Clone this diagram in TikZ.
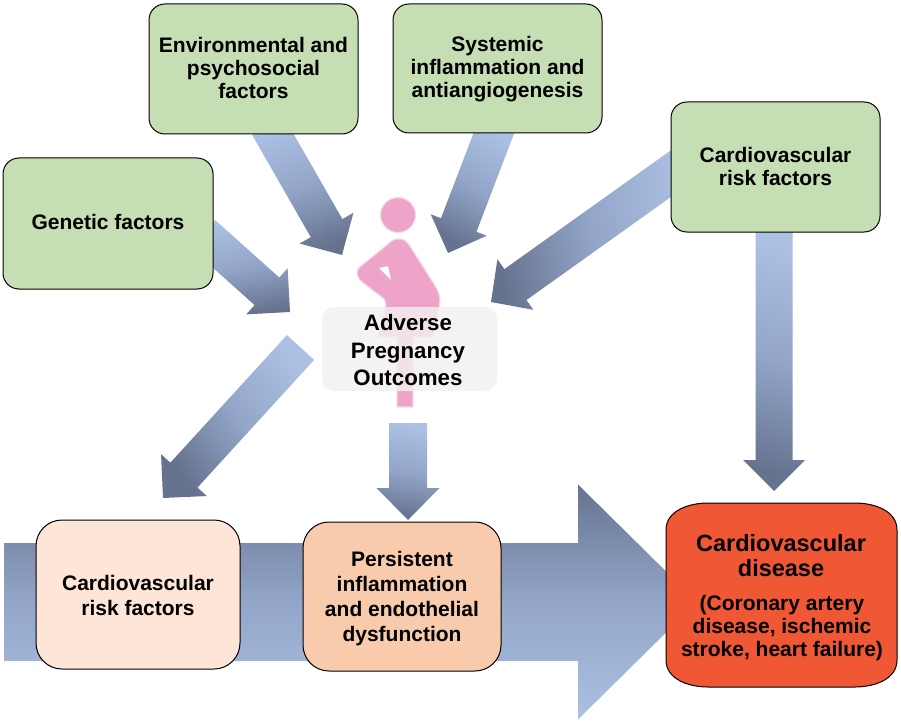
\documentclass[tikz,border=0pt]{standalone}
\usepackage{fontspec}
\setmainfont{Liberation Sans}
\usetikzlibrary{calc}
\definecolor{boxgreen}{HTML}{C6DEB4}
\definecolor{boxpale}{HTML}{FDE5D8}
\definecolor{boxpeach}{HTML}{F8CBAC}
\definecolor{boxred}{HTML}{F05735}
\definecolor{arrowdark}{HTML}{66738F}
\definecolor{arrowlight}{HTML}{ABC0E2}
\definecolor{arrowmid}{HTML}{93A6C9}
\definecolor{figpink}{HTML}{EEA3C8}
\definecolor{fighalo}{HTML}{F3DDE8}
\definecolor{centerbox}{HTML}{F2F0F1}
\tikzset{
  x=1pt,y=-1pt,
  stepbox/.style={draw=black,line width=1pt,inner sep=0pt,rounded corners=#1},
  stepbox/.default=16pt,
  greenbox/.style={stepbox,fill=boxgreen},
  lab/.style={font=\bfseries\fontsize{21}{23}\selectfont,align=center,text=black,inner sep=0pt},
  lablow/.style={font=\bfseries\fontsize{21}{25}\selectfont,align=center,text=black,inner sep=0pt},
  blockarrow/.style={top color=arrowdark,bottom color=arrowlight,middle color=arrowmid,draw=none},
  figpart/.style={fill=figpink,draw=fighalo,line width=1.2pt,line join=round}
}
% tail, tip, shaft half-width, head half-width, head length, shading angle
\newcommand{\blockarrow}[6]{%
  \coordinate (hb) at ($(#2)!#5pt!(#1)$);
  \path[blockarrow,shading angle=#6]
    ($(#1)!#3pt!90:(#2)$) -- ($(hb)!#3pt!90:(#2)$) -- ($(hb)!#4pt!90:(#2)$) -- (#2)
    -- ($(hb)!#4pt!-90:(#2)$) -- ($(hb)!#3pt!-90:(#2)$) -- ($(#1)!#3pt!-90:(#2)$) -- cycle;
}
\begin{document}
\begin{tikzpicture}
\useasboundingbox (0,0) rectangle (901,722);
\fill[white] (0,0) rectangle (901,722);

% named ends of the block arrows
\coordinate (tailMain) at (4,602);      \coordinate (tipMain) at (697,602);
\coordinate (tailEnv) at (268,126);     \coordinate (tipEnv) at (342,255);
\coordinate (tailSys) at (497,125);     \coordinate (tipSys) at (448,253);
\coordinate (tailCvr) at (683,165);     \coordinate (tipCvr) at (491,302);
\coordinate (tailGen) at (203,234);     \coordinate (tipGen) at (290,312);
\coordinate (tailOut) at (300.5,347.5); \coordinate (tipOut) at (163,498);
\coordinate (tailDown) at (408,423);    \coordinate (tipDown) at (408,520);
\coordinate (tailCvd) at (774,225);     \coordinate (tipCvd) at (774,491);

\blockarrow{tailMain}{tipMain}{59}{117.5}{119}{0}
\blockarrow{tailEnv}{tipEnv}{18.2}{31}{31}{200}
\blockarrow{tailSys}{tipSys}{19}{30}{30}{150}
\blockarrow{tailCvr}{tipCvr}{19}{31}{30}{100}
\blockarrow{tailGen}{tipGen}{18.5}{31}{31}{190}
\blockarrow{tailOut}{tipOut}{18.4}{31}{31}{125}
\blockarrow{tailDown}{tipDown}{19}{31.5}{32}{170}
\blockarrow{tailCvd}{tipCvd}{18.5}{31}{31}{165}

% pregnant figure
\fill[figpart] (398,215) circle (17.5);
\path[figpart] (397,239) .. controls (403,238) and (407,241) .. (410,246)
  -- (434,284) .. controls (440,293) and (441,300) .. (439,308)
  -- (433,337) -- (413,337) -- (413,407) -- (397,407) -- (397,337) -- (378,337) -- (386,305)
  -- (384,299) -- (362,282) .. controls (356,277) and (355,270) .. (361,266)
  -- (388,244) .. controls (391,241) and (394,239) .. (397,239) -- cycle;
\fill[white] (379,268) -- (388,266) -- (391,280) -- cycle;

% boxes
\node[greenbox,minimum width=210pt,minimum height=131pt] (gen) at (108,223.5) {};
\node[greenbox,minimum width=209pt,minimum height=130pt] (env) at (253.5,69) {};
\node[greenbox,minimum width=209pt,minimum height=129pt] (sys) at (497.5,68.5) {};
\node[greenbox,minimum width=209pt,minimum height=130pt] (cvr) at (775.5,167) {};
\node[stepbox=26pt,fill=boxpale,minimum width=204pt,minimum height=149pt] (cvlow) at (138,594.5) {};
\node[stepbox=26pt,fill=boxpeach,minimum width=198pt,minimum height=149pt] (per) at (402,596.5) {};
\draw[fill=boxred,line width=1pt] (666,530) .. controls (666,510) and (690,503) .. (708,503)
  -- (855,503) .. controls (873,503) and (897,510) .. (897,530)
  -- (897,660) .. controls (897,680) and (873,687) .. (855,687)
  -- (708,687) .. controls (690,687) and (666,680) .. (666,660) -- cycle;
\node[draw=none,fill=centerbox,fill opacity=0.82,rounded corners=12pt,minimum width=175pt,minimum height=84pt,inner sep=0pt] (apo) at (409.5,349) {};

% texts
\node[lab] (tgen) at (108,222) {Genetic factors};
\node[lab] (tenv) at (253.5,68) {Environmental and\\psychosocial\\factors};
\node[lab] (tsys) at (497.5,69.5) {Systemic\\inflammation and\\antiangiogenesis};
\node[lab] (tcvr) at (775.5,166) {Cardiovascular\\risk factors};
\node[lab,font=\bfseries\fontsize{22.3}{27.5}\selectfont] (tapo) at (408,350.5) {Adverse\\Pregnancy\\Outcomes};
\node[lablow] (tcvlow) at (138,595) {Cardiovascular\\risk factors};
\node[lablow] (tper) at (402,599) {Persistent\\inflammation\\and endothelial\\dysfunction};
\node[lab,font=\bfseries\fontsize{23.5}{25}\selectfont] (tcvd) at (781,555.5) {Cardiovascular\\disease};
\node[lab,font=\bfseries\fontsize{21}{23}\selectfont] (tcvd2) at (782,628) {(Coronary artery\\disease, ischemic\\stroke, heart failure)};
\end{tikzpicture}
\end{document}
